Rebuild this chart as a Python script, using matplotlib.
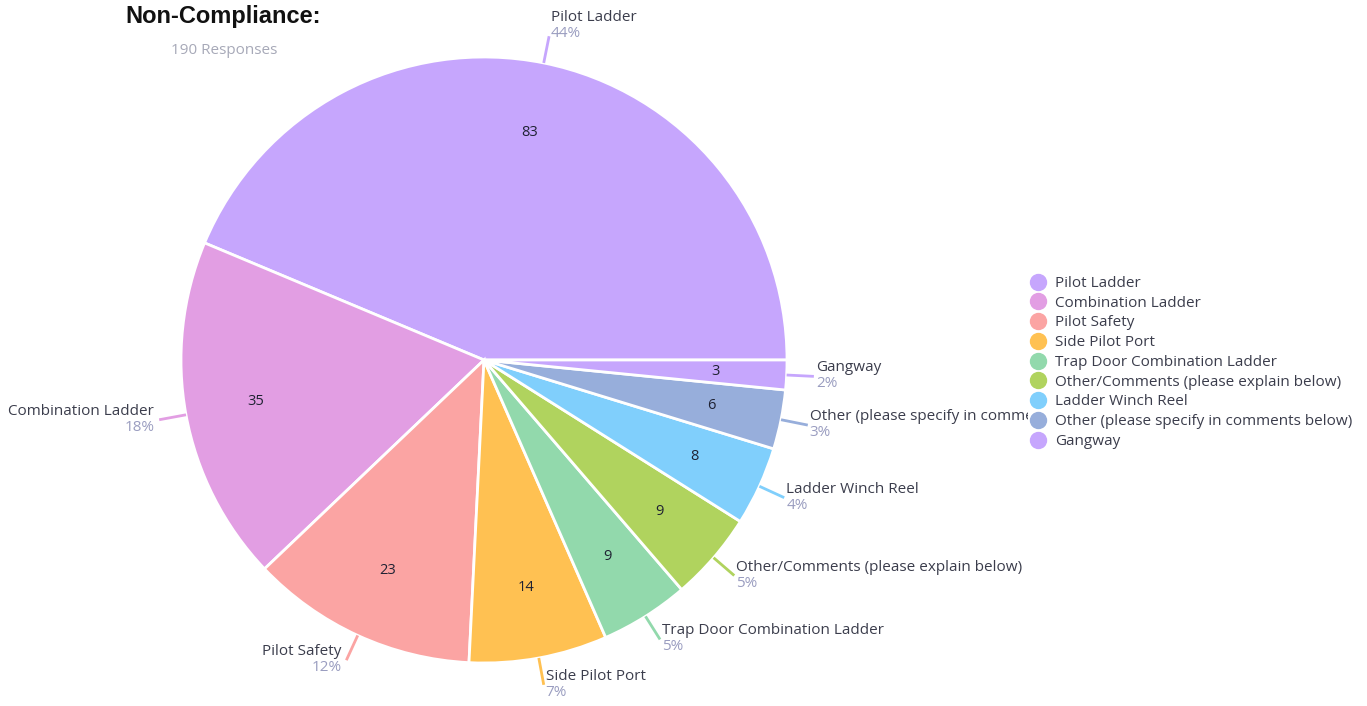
import matplotlib.pyplot as plt
from matplotlib.lines import Line2D
import numpy as np

# Non-compliance survey results (190 responses)
categories = ["Pilot Ladder", "Combination Ladder", "Pilot Safety", "Side Pilot Port",
              "Trap Door Combination Ladder", "Other/Comments (please explain below)",
              "Ladder Winch Reel", "Other (please specify in comments below)", "Gangway"]
counts = [83, 35, 23, 14, 9, 9, 8, 6, 3]
colors = ["#c6a6fd", "#e29ee3", "#fba4a3", "#ffc152", "#92d9ac",
          "#b0d35e", "#80cffc", "#97aedb", "#c6a6fd"]
total = sum(counts)
pct_labels = [f"{round(100 * c / total)}%" for c in counts]

NAME_COLOR = "#3b3d4c"
PCT_COLOR = "#9a9dc0"
FS = 11

plt.rcParams['font.family'] = ['Open Sans', 'DejaVu Sans']

W, H = 1367, 706
fig = plt.figure(figsize=(W / 100, H / 100), dpi=100)
# plot area in pixel units, labels get cut at its right edge
ax = fig.add_axes([0, 0, 1028 / W, 1])

wedges, _ = ax.pie(counts, colors=colors, startangle=0, counterclock=True,
                   center=(484, 346), radius=303,
                   wedgeprops=dict(edgecolor='white', linewidth=2))
ax.set_xlim(0, 1028)
ax.set_ylim(0, H)
ax.set_aspect('equal')
ax.axis('off')

for w, name, n, pct in zip(wedges, categories, counts, pct_labels):
    ang = np.deg2rad((w.theta1 + w.theta2) / 2)
    c, s = np.cos(ang), np.sin(ang)
    cx, cy = w.center
    r = w.r
    # value inside the slice
    ax.text(cx + 0.765 * r * c, cy + 0.765 * r * s, str(n), ha='center', va='center',
            fontsize=10.5, color='#1f2233')
    # connector
    x0, y0 = cx + r * c, cy + r * s
    x1, y1 = cx + 1.09 * r * c, cy + 1.09 * r * s
    ax.plot([x0, x1], [y0, y1], color=w.get_facecolor(), lw=2, solid_capstyle='butt')
    ha = 'left' if c >= 0 else 'right'
    tx = x1 + (2 if c >= 0 else -5)
    # labels near the top sit a bit higher than the connector end
    ty = y1 + 1 + 11 * max(s, 0) ** 2
    ax.text(tx, ty, name, ha=ha, va='bottom', fontsize=FS, color=NAME_COLOR, clip_on=True)
    ax.text(tx, ty - 1, pct, ha=ha, va='top', fontsize=FS, color=PCT_COLOR, clip_on=True)

fig.text(125 / W, 1 - 16 / H, "Non-Compliance:", ha='left', va='center',
         fontsize=17, fontweight='bold', family='Liberation Sans', color='#111111')
fig.text(171 / W, 1 - 51 / H, "190 Responses", ha='left', va='center',
         fontsize=FS, color='#a7a9b8')

handles = [Line2D([], [], marker='o', linestyle='', markersize=11.5,
                  markerfacecolor=col, markeredgecolor=col) for col in colors]
fig.legend(handles, categories, loc='upper left', bbox_to_anchor=(1029 / W, 1 - 276 / H),
           frameon=False, fontsize=FS, labelcolor=NAME_COLOR, handlelength=1.2,
           handletextpad=0.5, labelspacing=0.31, borderpad=0, borderaxespad=0)

fig.savefig("out.png", dpi=100)
